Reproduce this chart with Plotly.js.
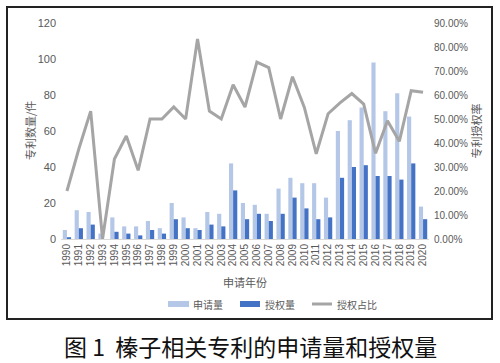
<!DOCTYPE html>
<html>
<head>
<meta charset="utf-8">
<script src="https://cdn.plot.ly/plotly-3.0.1.min.js"></script>
<style>
html,body{margin:0;padding:0;background:#fff;}
#chart{width:500px;height:363px;}
</style>
</head>
<body>
<div id="chart"></div>
<script>
// ---- data ----
const years = ['1990','1991','1992','1993','1994','1995','1996','1997','1998','1999','2000','2001','2002','2003','2004','2005','2006','2007','2008','2009','2010','2011','2012','2013','2014','2015','2016','2017','2018','2019','2020'];
const applications = [5,16,15,3,12,7,7,10,6,20,12,6,15,14,42,20,19,14,28,34,31,31,23,60,66,73,98,71,81,68,18];
const grants = [1,6,8,0,4,3,2,5,3,11,6,5,8,7,27,11,14,10,14,23,17,11,12,34,40,41,35,35,33,42,11];
const grantRatio = [0.20,0.375,0.533,0,0.333,0.429,0.286,0.50,0.50,0.55,0.50,0.833,0.533,0.50,0.643,0.55,0.737,0.714,0.50,0.676,0.548,0.355,0.522,0.567,0.606,0.562,0.357,0.493,0.407,0.618,0.611];
const seriesNames = ['申请量','授权量','授权占比'];
const leftTitle = '专利数量/件';
const rightTitle = '专利授权率';
const xTitle = '申请年份';
const caption = '图 1&nbsp;&nbsp;榛子相关专利的申请量和授权量';

// ---- layout helpers (pixel -> paper) ----
const W = 500, H = 363;
const M = {l:61, r:71, t:23, b:124};
const pw = W - M.l - M.r, ph = H - M.t - M.b;
const px = x => (x - M.l) / pw;
const py = y => (H - M.b - y) / ph;

const lightBlue = '#b4c7e7';
const darkBlue = '#4472c4';
const gray = '#a5a5a5';
const txt = '#595959';
const fontCJK = '"Noto Sans CJK SC", "Noto Sans", sans-serif';
const fontNum = '"Liberation Sans Narrow", "Liberation Sans", Arial, sans-serif';

const traces = [
  {type:'bar', x:years, y:applications, name:seriesNames[0], marker:{color:lightBlue}, showlegend:false, hoverinfo:'skip'},
  {type:'bar', x:years, y:grants, name:seriesNames[1], marker:{color:darkBlue}, showlegend:false, hoverinfo:'skip'},
  {type:'scatter', mode:'lines', x:years, y:grantRatio, yaxis:'y2', name:seriesNames[2], line:{color:gray, width:3}, showlegend:false, hoverinfo:'skip'}
];

const layout = {
  width: W, height: H,
  margin: M,
  paper_bgcolor:'#ffffff', plot_bgcolor:'#ffffff',
  barmode:'group', bargap:0.3, bargroupgap:0,
  font:{family:fontCJK, color:txt},
  xaxis:{
    type:'category', tickmode:'array', tickvals:years, ticktext:years, tickangle:-90,
    tickfont:{family:fontNum, size:10, color:txt},
    showline:true, linecolor:'#d9d9d9', linewidth:1, ticks:'', showgrid:false, zeroline:false,
    title:{text:xTitle, font:{family:fontCJK, size:11, color:txt}, standoff:14}
  },
  yaxis:{
    range:[0,120], dtick:20, showgrid:false, zeroline:false, showline:false, ticks:'',
    tickfont:{family:fontNum, size:11, color:txt}, ticklabelstandoff:4
  },
  yaxis2:{
    overlaying:'y', side:'right', range:[0,0.9], dtick:0.1, tickformat:'.2%',
    showgrid:false, zeroline:false, showline:false, ticks:'',
    tickfont:{family:fontNum, size:10, color:txt}, ticklabelstandoff:4,
    title:{text:rightTitle, font:{family:fontCJK, size:11, color:txt}, standoff:4}
  },
  shapes:[
    {type:'rect', xref:'paper', yref:'paper', x0:px(7), x1:px(492), y0:py(319), y1:py(7), line:{color:'#222', width:2}, fillcolor:'rgba(0,0,0,0)'},
    {type:'rect', xref:'paper', yref:'paper', x0:px(168), x1:px(189), y0:py(307), y1:py(301), line:{width:0}, fillcolor:lightBlue},
    {type:'rect', xref:'paper', yref:'paper', x0:px(240), x1:px(260), y0:py(307), y1:py(301), line:{width:0}, fillcolor:darkBlue},
    {type:'line', xref:'paper', yref:'paper', x0:px(312), x1:px(332), y0:py(304), y1:py(304), line:{width:3, color:gray}}
  ],
  annotations:[
    {xref:'paper', yref:'paper', x:px(30), y:0.5, xanchor:'center', yanchor:'middle', textangle:-90, text:leftTitle, showarrow:false, font:{family:fontCJK, size:11, color:txt}},
    {xref:'paper', yref:'paper', x:px(191), y:py(304), xanchor:'left', yanchor:'middle', text:seriesNames[0], showarrow:false, font:{family:fontCJK, size:10, color:txt}},
    {xref:'paper', yref:'paper', x:px(263), y:py(304), xanchor:'left', yanchor:'middle', text:seriesNames[1], showarrow:false, font:{family:fontCJK, size:10, color:txt}},
    {xref:'paper', yref:'paper', x:px(335), y:py(304), xanchor:'left', yanchor:'middle', text:seriesNames[2], showarrow:false, font:{family:fontCJK, size:10, color:txt}},
    {xref:'paper', yref:'paper', x:px(250), y:py(346), xanchor:'center', yanchor:'middle', text:caption, showarrow:false, font:{family:fontCJK, size:23, color:'#111'}}
  ]
};

Plotly.newPlot('chart', traces, layout, {staticPlot:true, displayModeBar:false});
</script>
</body>
</html>
